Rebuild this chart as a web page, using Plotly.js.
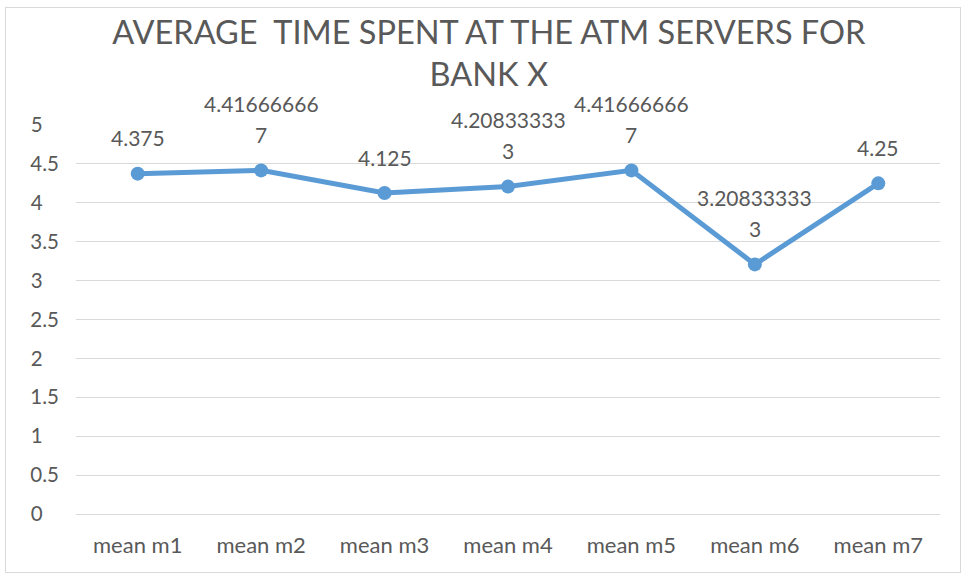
<!DOCTYPE html>
<html>
<head>
<meta charset="utf-8">
<script src="https://cdn.plot.ly/plotly-3.0.1.min.js"></script>
<style>
html,body{margin:0;padding:0;background:#fff;}
#chart{position:absolute;left:0;top:0;width:968px;height:577px;}
#frame{position:absolute;left:5px;top:7px;width:954px;height:564px;border:1px solid #d9d9d9;pointer-events:none;}
</style>
</head>
<body>
<div id="chart"></div>
<div id="frame"></div>
<script>
const categories = ["mean m1","mean m2","mean m3","mean m4","mean m5","mean m6","mean m7"];
const meanTimes = [4.375, 4.416666667, 4.125, 4.208333333, 4.416666667, 3.208333333, 4.25];
const yTickValues = [0,0.5,1,1.5,2,2.5,3,3.5,4,4.5,5];
const titleText = "AVERAGE  TIME SPENT AT THE ATM SERVERS FOR<br>BANK X";

const FONT = "Lato, Carlito, 'Open Sans', sans-serif";
const GREY = "#595959";

function labelLines(v){
  const s = String(v);
  return s.length > 10 ? [s.slice(0,10), s.slice(10)] : [s];
}
// pad single-digit tick labels so right-aligned labels start at the same x (like the reference)
function tickLabel(v){
  const s = String(v);
  return s.length === 1 ? s + "\u2008\u2007" : s;
}

const trace = {
  x: categories,
  y: meanTimes,
  type: "scatter",
  mode: "lines+markers",
  line: {color: "#5b9bd5", width: 5},
  marker: {color: "#5b9bd5", size: 14},
  hoverinfo: "skip"
};

const annotations = [];
categories.forEach((c, i) => {
  const lines = labelLines(meanTimes[i]);
  lines.slice().reverse().forEach((ln, k) => {
    annotations.push({
      x: c, y: meanTimes[i], xref: "x", yref: "y",
      text: ln, showarrow: false,
      xanchor: "center", yanchor: "middle",
      yshift: 36 + 31 * k,
      font: {family: FONT, size: 21, color: GREY}
    });
  });
});

const layout = {
  width: 968, height: 577,
  margin: {l: 76, r: 28, t: 125, b: 63},
  paper_bgcolor: "#ffffff",
  plot_bgcolor: "#ffffff",
  showlegend: false,
  annotations: annotations,
  title: {
    text: titleText,
    font: {family: FONT, size: 32.5, color: GREY},
    x: 0.505, xanchor: "center",
    y: 1 - 44/577, yref: "container", yanchor: "top"
  },
  xaxis: {
    type: "category",
    range: [-0.5, categories.length - 0.5],
    showgrid: false,
    showline: false,
    zeroline: false,
    ticks: "outside", ticklen: 12, tickcolor: "rgba(0,0,0,0)",
    tickfont: {family: FONT, size: 22, color: GREY}
  },
  yaxis: {
    range: [0, 5],
    tickvals: yTickValues,
    ticktext: yTickValues.map(tickLabel),
    showgrid: true, gridcolor: "#d9d9d9", gridwidth: 1,
    zeroline: true, zerolinecolor: "#d9d9d9", zerolinewidth: 1,
    showline: false,
    ticks: "outside", ticklen: 12, tickcolor: "rgba(0,0,0,0)",
    tickfont: {family: FONT, size: 20.5, color: GREY}
  }
};

Plotly.newPlot("chart", [trace], layout, {displayModeBar: false, staticPlot: true});
</script>
</body>
</html>
